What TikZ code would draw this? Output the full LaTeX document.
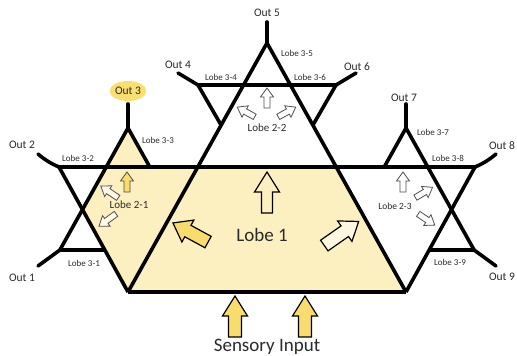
\documentclass[tikz,border=0pt]{standalone}
\usepackage{fontspec}
\setmainfont{Carlito}
\usetikzlibrary{shapes.geometric}
\definecolor{lobefill}{HTML}{FCEFC0}
\definecolor{arrfill}{HTML}{F8DC6E}
\definecolor{outfill}{HTML}{F9DF70}
\definecolor{smallgray}{HTML}{505050}
\definecolor{txt}{HTML}{2A2A2A}
\newcommand\blkarr[7]{%
  \draw[#1,shift={(#2)},rotate=#3] ({-#4/2},{-#5}) -- ({#4/2-#7},{-#5}) -- ({#4/2-#7},{-#6}) -- ({#4/2},0) -- ({#4/2-#7},{#6}) -- ({#4/2-#7},{#5}) -- ({-#4/2},{#5}) -- cycle;}
\tikzset{
  structline/.style={line width=3.6pt, black},
  legline/.style={line width=3.6pt, black, line cap=round},
  bigarr/.style={line width=1.2pt, draw=black, line join=miter},
  smallarr/.style={line width=0.8pt, draw=smallgray},
  outlbl/.style={font=\fontsize{11.5}{13}\selectfont, inner sep=0pt, text=txt},
  lobesm/.style={font=\fontsize{9}{10}\selectfont, inner sep=0pt, text=txt},
  lobemid/.style={font=\fontsize{11}{12}\selectfont, inner sep=0pt, text=txt},
}
\begin{document}
\begin{tikzpicture}[x=1pt,y=-1pt]
\useasboundingbox (0,0) rectangle (517,356);
% key coordinates
\coordinate (apex) at (267,43);
\coordinate (BL) at (128,292);
\coordinate (BR) at (406,292);
\coordinate (HL) at (59,167);
\coordinate (HR) at (475,167);
\coordinate (TL) at (197.8,167);
\coordinate (TR) at (336.2,167);
\coordinate (TopL) at (198,85);
\coordinate (TopR) at (336,85);
\coordinate (TopLm) at (221.5,125.8);
\coordinate (TopRm) at (312.5,125.8);
\coordinate (A3) at (128,128);
\coordinate (A7) at (406,128);
\coordinate (B3) at (149.8,167);
\coordinate (B7) at (384.2,167);
\coordinate (X1) at (82.6,209.3);
\coordinate (L1) at (59.9,250);
\coordinate (L1r) at (105.3,250);
\coordinate (R9) at (474.1,250);
\coordinate (R9l) at (428.7,250);
% fills
\fill[lobefill] (TL) -- (TR) -- (BR) -- (BL) -- cycle;
\fill[lobefill] (A3) -- (B3) -- (TL) -- (BL) -- (X1) -- cycle;
% structure lines
\draw[structline] (apex) -- (BL);
\draw[structline] (apex) -- (BR);
\draw[structline] (BL) -- (BR);
\draw[structline] (HL) -- (HR);
\draw[structline] (TopL) -- (TopR);
\draw[structline] (TopL) -- (TopLm);
\draw[structline] (TopR) -- (TopRm);
\draw[structline] (HL) -- (BL);
\draw[structline] (HR) -- (BR);
\draw[structline] (A3) -- (L1);
\draw[structline] (A3) -- (B3);
\draw[structline] (L1) -- (L1r);
\draw[structline] (A7) -- (R9);
\draw[structline] (A7) -- (B7);
\draw[structline] (R9) -- (R9l);
% output legs
\coordinate (o1) at (38,266);
\coordinate (o2) at (38,154);
\coordinate (o3) at (128,104);
\coordinate (o4) at (178,73);
\coordinate (o5) at (267,22);
\coordinate (o6) at (356,73);
\coordinate (o7) at (406,104);
\coordinate (o8) at (496,154);
\coordinate (o9) at (496,266);
\draw[legline] (L1) -- (o1);
\draw[legline] (HL) to[bend left=8] (o2);
\draw[legline] (A3) -- (o3);
\draw[legline] (TopL) -- (o4);
\draw[legline] (apex) -- (o5);
\draw[legline] (TopR) -- (o6);
\draw[legline] (A7) -- (o7);
\draw[legline] (HR) to[bend right=8] (o8);
\draw[legline] (R9) -- (o9);
% block arrows
\blkarr{bigarr,fill=arrfill}{235,316.5}{90}{41}{6.5}{12.5}{20}
\blkarr{bigarr,fill=arrfill}{305,316.5}{90}{41}{6.5}{12.5}{20}
\blkarr{bigarr,fill=lobefill}{267,192.5}{90}{41}{5.5}{12.5}{20}
\blkarr{bigarr,fill=arrfill}{190.5,232.5}{151.5}{40}{6.5}{12.5}{17}
\blkarr{bigarr,fill=lobefill!50!white}{341.5,233.5}{35}{42}{6.5}{12.5}{17}
\blkarr{smallarr,fill=arrfill}{127,182}{90}{20}{3}{6.5}{9}
\blkarr{smallarr,fill=lobefill!40!white}{109.5,192}{146}{21}{3}{6.5}{9}
\blkarr{smallarr,fill=lobefill!40!white}{107.5,220}{216}{21}{3}{6.5}{9}
\blkarr{smallarr,fill=white}{267,98}{90}{20}{3}{6.5}{9}
\blkarr{smallarr,fill=white}{246,112}{151}{20}{3}{6.5}{9}
\blkarr{smallarr,fill=white}{287,112}{29}{20}{3}{6.5}{9}
\blkarr{smallarr,fill=white}{403,182}{90}{20}{3}{6.5}{9}
\blkarr{smallarr,fill=white}{424,192.5}{31}{20}{3}{6.5}{9}
\blkarr{smallarr,fill=white}{426.5,219.5}{-34}{20}{3}{6.5}{9}
% labels
\node[outlbl] (out1) at (22,278) {Out 1};
\node[outlbl] (out2) at (22,145) {Out 2};
\node[outlbl, ellipse, fill=outfill, minimum width=36pt, minimum height=20pt] (out3) at (128,91) {Out 3};
\node[outlbl] (out4) at (178,65) {Out 4};
\node[outlbl] (out5) at (267,13) {Out 5};
\node[outlbl] (out6) at (357,67) {Out 6};
\node[outlbl] (out7) at (404,98) {Out 7};
\node[outlbl] (out8) at (502,146) {Out 8};
\node[outlbl] (out9) at (502,277) {Out 9};
\node[lobesm] (l31) at (84,263) {Lobe 3-1};
\node[lobesm] (l32) at (78,158) {Lobe 3-2};
\node[lobesm] (l33) at (158,140) {Lobe 3-3};
\node[lobesm] (l34) at (221,77) {Lobe 3-4};
\node[lobesm] (l35) at (297,53) {Lobe 3-5};
\node[lobesm] (l36) at (310,77) {Lobe 3-6};
\node[lobesm] (l37) at (433,132) {Lobe 3-7};
\node[lobesm] (l38) at (448,158) {Lobe 3-8};
\node[lobesm] (l39) at (450,262) {Lobe 3-9};
\node[lobemid] (l21) at (129,205) {Lobe 2-1};
\node[lobemid] (l22) at (267,128) {Lobe 2-2};
\node[lobemid, font=\fontsize{9.5}{10}\selectfont] (l23) at (395,206) {Lobe 2-3};
\node[font=\fontsize{19}{21}\selectfont, inner sep=0pt, text=txt] (l1) at (262,235) {Lobe 1};
\node[font=\fontsize{19}{21}\selectfont, inner sep=0pt, text=txt, anchor=base] (sens) at (267,351) {Sensory Input};
\end{tikzpicture}
\end{document}
